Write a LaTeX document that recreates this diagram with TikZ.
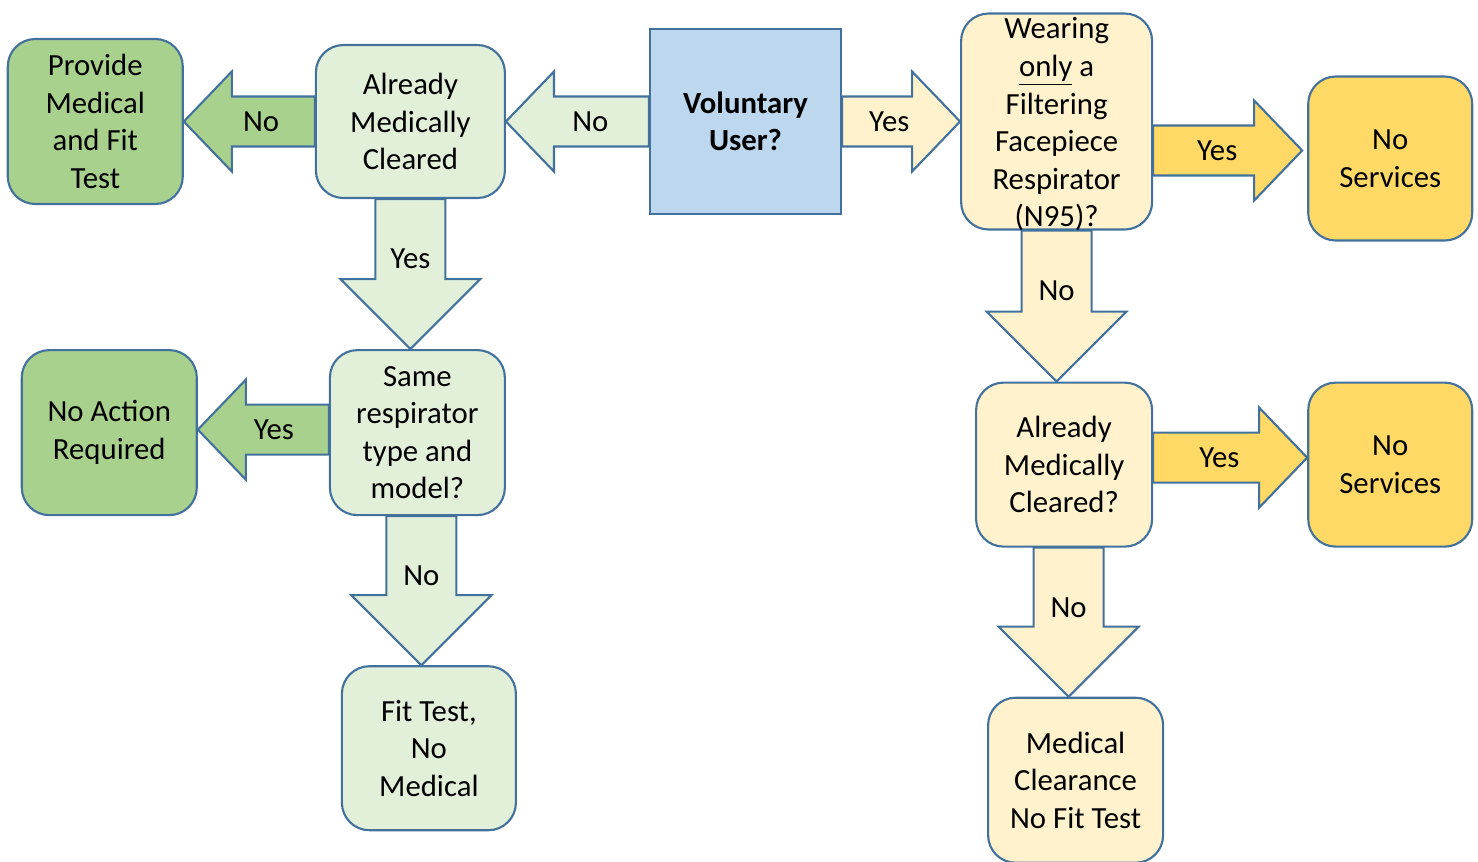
\documentclass[tikz,border=0pt]{standalone}
\usepackage{fontspec}
\setmainfont{Carlito}
\usetikzlibrary{positioning, calc}
\definecolor{outline}{HTML}{41719C}
\definecolor{dkgreen}{HTML}{A9D18E}
\definecolor{ltgreen}{HTML}{E2F0D9}
\definecolor{userblue}{HTML}{BDD7EE}
\definecolor{ltyellow}{HTML}{FFF2CC}
\definecolor{gold}{HTML}{FFD966}
\tikzset{
box/.style={draw=outline, line width=1.2pt, rounded corners=0.55cm, inner sep=0pt, align=center, minimum width=3.5cm, minimum height=3.3cm}, % every box of the chart
arr/.style={draw=outline, line width=1.2pt, line join=miter},
% fat arrow from tail point to tip point: shaft half width, head half width, head length
blockarrow/.style n args={3}{to path={
  let \p1=(\tikztostart), \p2=(\tikztotarget),
      \n1={atan2(\y2-\y1,\x2-\x1)}, \n2={veclen(\x2-\x1,\y2-\y1)-#3}
  in ($(\p1)+(\n1+90:#1)$) -- ($(\p1)+(\n1:\n2)+(\n1+90:#1)$)
  -- ($(\p1)+(\n1:\n2)+(\n1+90:#2)$) -- (\p2)
  -- ($(\p1)+(\n1:\n2)+(\n1-90:#2)$) -- ($(\p1)+(\n1:\n2)+(\n1-90:#1)$)
  -- ($(\p1)+(\n1-90:#1)$) -- cycle}},
harrow/.style={blockarrow={0.5cm}{1cm}{0.96cm}},
varrow/.style={blockarrow={0.7cm}{1.4cm}{1.4cm}},
}

\begin{document}
\begin{tikzpicture}[font=\fontsize{17.5}{21.4}\selectfont]
\useasboundingbox (0,0) rectangle (29.56,-17.22);

% boxes
\node[box, fill=userblue, sharp corners, minimum width=3.82cm, minimum height=3.7cm] (user) at (14.91,-2.43) {\textbf{Voluntary}\\\textbf{User?}};
\node[box, fill=ltgreen, minimum width=3.78cm, minimum height=3.06cm, left=2.86cm of user] (amc) {Already\\Medically\\Cleared};
\node[box, fill=dkgreen, left=2.62cm of amc] (provide) {Provide\\Medical\\and Fit\\Test};
\node[box, fill=ltyellow, minimum width=3.82cm, minimum height=4.32cm, right=2.36cm of user] (wear) {};
\node[box, fill=gold, minimum width=3.28cm, minimum height=3.28cm, right=3.08cm of wear, yshift=-0.74cm] (nsa) {No\\Services};
\node[box, fill=ltgreen, below=3.0cm of amc, xshift=0.14cm] (same) {Same\\respirator\\type and\\model?};
\node[box, fill=dkgreen, left=2.62cm of same] (noact) {No Action\\Required};
\node[box, fill=ltgreen, minimum width=3.48cm, minimum height=3.28cm, below=2.98cm of same, xshift=0.23cm] (fit) {Fit Test,\\No\\Medical};
\node[box, fill=ltyellow, minimum width=3.52cm, minimum height=3.28cm, below=3.02cm of wear, xshift=0.15cm] (amc2) {Already\\Medically\\Cleared?};
\node[box, fill=gold, minimum width=3.28cm, minimum height=3.28cm, right=3.08cm of amc2] (nsb) {No\\Services};
\node[box, fill=ltyellow, below=2.98cm of amc2, xshift=0.23cm] (med) {Medical\\Clearance\\No Fit Test};

% arrow end points off the box centres
\coordinate (e0) at ([yshift=0.06cm]same.west);
\coordinate (f0) at ([xshift=0.08cm]same.south);
\coordinate (g1) at ([xshift=-0.1cm, yshift=0.16cm]nsa.west);
\coordinate (i1) at ([yshift=0.14cm]nsb.west);
\coordinate (j0) at ([xshift=0.09cm]amc2.south);

% arrows
\path[arr, fill=ltgreen] (user.west) to[harrow] (amc.east |- user.west);
\path[arr, fill=ltyellow] (user.east) to[harrow] (wear.west |- user.east);
\path[arr, fill=dkgreen] (amc.west) to[harrow] (provide.east |- amc.west);
\path[arr, fill=ltgreen] (amc.south) to[varrow] (amc.south |- same.north);
\path[arr, fill=dkgreen] (e0) to[harrow] (noact.east |- e0);
\path[arr, fill=ltgreen] (f0) to[varrow] (f0 |- fit.north);
\path[arr, fill=gold] (wear.east |- g1) to[harrow] (g1);
\path[arr, fill=ltyellow] (wear.south) to[varrow] (wear.south |- amc2.north);
\path[arr, fill=gold] (amc2.east |- i1) to[harrow] (i1);
\path[arr, fill=ltyellow] (j0) to[varrow] (j0 |- med.north);

% text of the tall box goes over its border
\node[align=center] (weartext) at ([yshift=-0.06cm]wear) {Wearing\\\underline{only} a\\Filtering\\Facepiece\\Respirator\\(N95)?};

% arrow labels
\node at ($(user.west)!.41!(amc.east |- user.west)$) {No};
\node at ($(user.east)!.4!(wear.west |- user.east)$) {Yes};
\node at ($(amc.west)!.41!(provide.east |- amc.west)$) {No};
\node at ($(amc.south)!.4!(amc.south |- same.north)$) {Yes};
\node at ($(e0)!.42!(noact.east |- e0)$) {Yes};
\node at ($(f0)!.4!(f0 |- fit.north)$) {No};
\node at ($(wear.east |- g1)!.43!(g1)$) {Yes};
\node at ($(wear.south)!.4!(wear.south |- amc2.north)$) {No};
\node at ($(amc2.east |- i1)!.43!(i1)$) {Yes};
\node at ($(j0)!.4!(j0 |- med.north)$) {No};
\end{tikzpicture}
\end{document}
